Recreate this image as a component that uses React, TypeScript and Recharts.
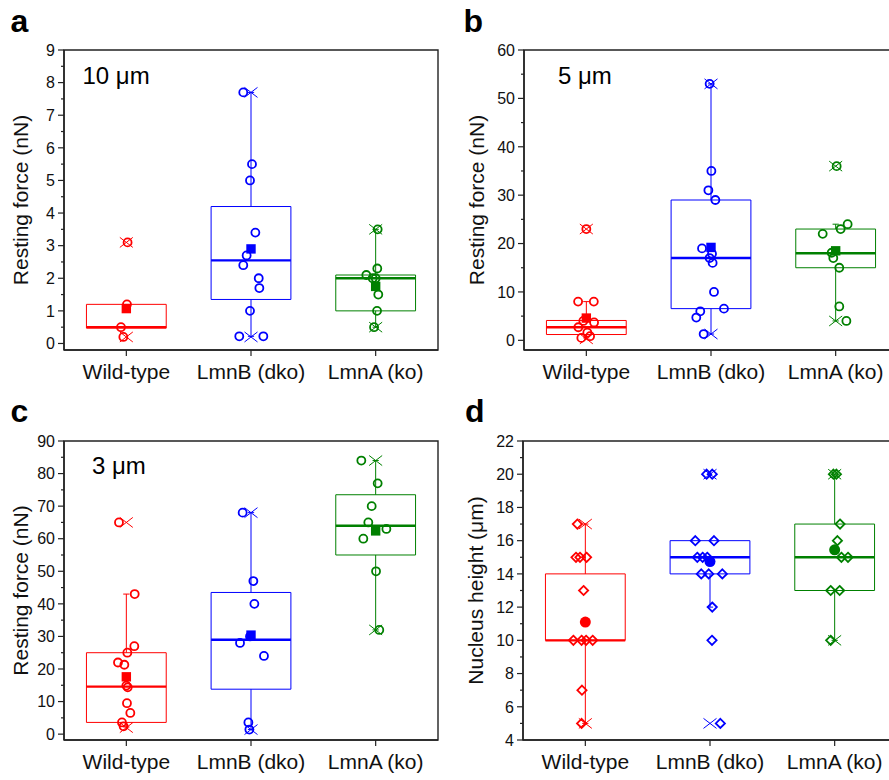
import React from "react";
import {
  ComposedChart,
  XAxis,
  YAxis,
  Scatter,
  ReferenceArea,
  ReferenceLine,
} from "recharts";

const groups = ["Wild-type", "LmnB (dko)", "LmnA (ko)"];
const colors = ["#ff0000", "#0000ff", "#008000"];

// a: resting force at 10 um
const aPoints = [
  [3.1, 1.2, 0.5, 0.2],
  [7.7, 5.5, 5.0, 3.4, 2.7, 2.4, 2.0, 1.7, 1.0, 0.22, 0.22],
  [3.5, 2.3, 2.1, 2.0, 2.0, 1.5, 1.0, 0.5],
];
const aJitter = [
  [0.01, 0.005, -0.043, -0.024],
  [-0.062, 0.008, -0.008, 0.035, -0.035, -0.062, 0.062, 0.067, -0.008, -0.094, 0.099],
  [0.016, 0.013, -0.075, -0.024, 0, 0.021, 0.011, -0.013],
];
const aBox = [[0.47, 0.5, 1.2], [1.35, 2.55, 4.2], [1.0, 2.0, 2.1]];
const aWhisker = [[0.47, 1.2], [0.22, 7.7], [0.5, 3.5]];
const aExtremes = [[0.2, 3.1], [0.2, 7.7], [0.5, 3.5]];
const aMean = [1.07, 2.9, 1.75];
const aMajor = [0, 1, 2, 3, 4, 5, 6, 7, 8, 9];
const aMinor = [0.5, 1.5, 2.5, 3.5, 4.5, 5.5, 6.5, 7.5, 8.5];

// b: resting force at 5 um
const bPoints = [
  [23, 8, 8, 4.0, 3.7, 2.7, 1.6, 0.5, 0.85],
  [53, 35, 31, 29, 19, 17.9, 17, 16, 10, 6.55, 6.0, 4.7, 1.3],
  [36, 24, 23, 22, 18.1, 17, 15, 7, 4],
];
const bJitter = [
  [0, -0.066, 0.06, -0.024, 0.062, -0.064, 0.008, -0.04, 0.03],
  [-0.011, 0.003, -0.021, 0.035, -0.072, 0.008, -0.011, 0.013, 0.024, 0.104, -0.086, -0.118, -0.059],
  [0.008, 0.096, 0.04, -0.104, -0.032, -0.019, 0.029, 0.029, 0.086],
];
const bBox = [[1.2, 2.7, 4.1], [6.55, 17, 29], [15, 18, 23]];
const bWhisker = [[0.5, 8], [1.3, 53], [4, 24]];
const bExtremes = [[0.3, 23], [1.3, 53], [4, 36]];
const bMean = [4.6, 19.2, 18.5];
const bMajor = [0, 10, 20, 30, 40, 50, 60];
const bMinor = [5, 15, 25, 35, 45, 55];

// c: resting force at 3 um
const cPoints = [
  [65, 43, 27, 25, 22, 21.3, 14.9, 14.4, 9.5, 6.5, 3.6, 2.4],
  [68, 47, 40, 30, 28, 24, 3.6, 1.4],
  [84, 77, 70, 65, 63, 60, 50, 32],
];
const cJitter = [
  [-0.059, 0.067, 0.064, 0.008, -0.067, -0.016, 0, 0.011, 0.005, 0.032, -0.035, -0.022],
  [-0.067, 0.019, 0.027, -0.008, -0.088, 0.104, -0.021, -0.013],
  [-0.115, 0.016, -0.032, -0.059, 0.086, -0.099, 0.003, 0.029],
];
const cBox = [[3.6, 14.6, 25], [13.8, 29, 43.5], [55, 64, 73.5]];
const cWhisker = [[2.2, 43], [1.4, 68], [32, 84]];
const cExtremes = [[2.0, 65], [1.4, 68], [32, 84]];
const cMean = [17.6, 30.4, 62.4];
const cMajor = [0, 10, 20, 30, 40, 50, 60, 70, 80, 90];
const cMinor = [5, 15, 25, 35, 45, 55, 65, 75, 85];

// d: nucleus height
const dPoints = [
  [17, 15, 15, 15, 13, 10, 10, 10, 10, 7, 5],
  [20, 20, 16, 16, 15, 15, 15, 14, 14, 14, 12, 10, 5],
  [20, 20, 17, 16, 15, 15, 13, 13, 10],
];
const dJitter = [
  [-0.064, -0.075, -0.043, 0.01, -0.014, -0.096, -0.03, 0.006, 0.059, -0.027, -0.03],
  [-0.027, 0.018, -0.118, 0.032, -0.102, -0.059, -0.022, -0.07, -0.01, 0.099, 0.018, 0.016, 0.083],
  [-0.01, 0.014, 0.043, 0.022, 0.054, 0.107, -0.032, 0.04, -0.032],
];
const dBox = [[10, 10, 14], [14, 15, 16], [13, 15, 17]];
const dWhisker = [[5, 17], [12, 16], [10, 20]];
const dExtremes = [[5, 17], [5, 20], [10, 20]];
const dMean = [11.1, 14.74, 15.45];
const dMajor = [4, 6, 8, 10, 12, 14, 16, 18, 20, 22];
const dMinor = [5, 7, 9, 11, 13, 15, 17, 19, 21];

const AXIS = "#222";
const HALF = 0.32;
const CAP = 0.025;
const AXW = 60;
const PAD_T = 10;
const PAD_R = 10;
const AXH = 45;
const PLOT_W = 374;

const panels = [
  {
    letter: "a", note: "10 μm", yLabel: "Resting force (nN)",
    left: 64, top: 50, h: 300, labelGap: 43.5, domain: [-0.2, 9],
    letterPos: [10.5, 31.5], notePos: [82.5, 84],
    points: aPoints, jitter: aJitter, box: aBox, whisker: aWhisker,
    extremes: aExtremes, mean: aMean, major: aMajor, minor: aMinor, marker: "circle",
  },
  {
    letter: "b", note: "5 μm", yLabel: "Resting force (nN)",
    left: 524, top: 50, h: 300, labelGap: 47, domain: [-2, 60],
    letterPos: [463.5, 31.5], notePos: [558, 84],
    points: bPoints, jitter: bJitter, box: bBox, whisker: bWhisker,
    extremes: bExtremes, mean: bMean, major: bMajor, minor: bMinor, marker: "circle",
  },
  {
    letter: "c", note: "3 μm", yLabel: "Resting force (nN)",
    left: 64, top: 441, h: 299, labelGap: 43.5, domain: [-1.8, 90],
    letterPos: [10.5, 421.5], notePos: [92, 474],
    points: cPoints, jitter: cJitter, box: cBox, whisker: cWhisker,
    extremes: cExtremes, mean: cMean, major: cMajor, minor: cMinor, marker: "circle",
  },
  {
    letter: "d", note: "", yLabel: "Nucleus height (μm)",
    left: 523, top: 441, h: 299, labelGap: 47, domain: [4, 22],
    letterPos: [465, 421.5], notePos: [0, 0],
    points: dPoints, jitter: dJitter, box: dBox, whisker: dWhisker,
    extremes: dExtremes, mean: dMean, major: dMajor, minor: dMinor, marker: "diamond",
  },
];

function YTick(props: any) {
  const { x, y, payload, major } = props;
  const v = payload.value;
  const isMajor = major.includes(v);
  return (
    <g>
      <line x1={x} x2={x - (isMajor ? 6 : 3)} y1={y} y2={y} stroke={AXIS} strokeWidth={1.2} />
      {isMajor && (
        <text x={x - 9} y={y} dy="0.36em" textAnchor="end" fontSize={16} fill="#111">
          {v}
        </text>
      )}
    </g>
  );
}

const openMarker = (kind: string, color: string) => (props: any) => {
  const { cx, cy } = props;
  if (kind === "diamond") {
    const r = 4.6;
    return (
      <path
        d={`M${cx},${cy - r}L${cx + r},${cy}L${cx},${cy + r}L${cx - r},${cy}Z`}
        fill="none"
        stroke={color}
        strokeWidth={1.8}
      />
    );
  }
  return <circle cx={cx} cy={cy} r={4} fill="none" stroke={color} strokeWidth={1.8} />;
};

const meanMarker = (kind: string, color: string) => (props: any) => {
  const { cx, cy } = props;
  if (kind === "diamond") return <circle cx={cx} cy={cy} r={5.5} fill={color} />;
  return <rect x={cx - 4.7} y={cy - 4.7} width={9.4} height={9.4} fill={color} />;
};

const crossMarker = (color: string) => (props: any) => {
  const { cx, cy } = props;
  return (
    <g stroke={color} strokeWidth={1}>
      <line x1={cx - 6.5} y1={cy - 5} x2={cx + 6.5} y2={cy + 5} />
      <line x1={cx - 6.5} y1={cy + 5} x2={cx + 6.5} y2={cy - 5} />
    </g>
  );
};

function Panel({ p }: { p: any }) {
  const [lo, hi] = p.domain;
  return (
    <div style={{ position: "absolute", left: p.left - AXW, top: p.top - PAD_T }}>
      <ComposedChart
        width={AXW + PLOT_W + PAD_R}
        height={PAD_T + p.h + AXH}
        margin={{ top: PAD_T, right: PAD_R, bottom: 0, left: 0 }}
      >
        <XAxis
          type="number"
          dataKey="x"
          domain={[0.5, 3.5]}
          ticks={[1, 2, 3]}
          interval={0}
          allowDataOverflow
          tickFormatter={(v: number) => groups[v - 1]}
          tick={{ fontSize: 21, fill: "#111" }}
          tickSize={6}
          tickMargin={8}
          tickLine={{ stroke: AXIS, strokeWidth: 1.2 }}
          axisLine={{ stroke: AXIS, strokeWidth: 1.5 }}
          height={AXH}
        />
        <YAxis
          type="number"
          dataKey="y"
          domain={p.domain}
          ticks={[...p.major, ...p.minor]}
          interval={0}
          allowDataOverflow
          tickLine={false}
          tickSize={0}
          tickMargin={0}
          tick={(t: any) => <YTick {...t} major={p.major} />}
          axisLine={{ stroke: AXIS, strokeWidth: 1.5 }}
          width={AXW}
          label={{
            value: p.yLabel,
            angle: -90,
            position: "insideLeft",
            offset: AXW - p.labelGap,
            style: { textAnchor: "middle", fontSize: 21, fill: "#111" },
          }}
        />
        <ReferenceArea
          x1={0.5}
          x2={3.5}
          y1={lo}
          y2={hi}
          fill="none"
          stroke={AXIS}
          strokeWidth={1.4}
          ifOverflow="visible"
        />
        {groups.map((_, g) => {
          const x = g + 1;
          const [q1, med, q3] = p.box[g];
          const [wl, wh] = p.whisker[g];
          const c = colors[g];
          return (
            <React.Fragment key={g}>
              <ReferenceArea
                x1={x - HALF}
                x2={x + HALF}
                y1={q1}
                y2={q3}
                fill="none"
                stroke={c}
                strokeWidth={1}
                ifOverflow="visible"
              />
              <ReferenceLine
                segment={[{ x: x - HALF, y: med }, { x: x + HALF, y: med }]}
                stroke={c}
                strokeWidth={2.4}
                ifOverflow="visible"
              />
              {wh > q3 && (
                <ReferenceLine segment={[{ x, y: q3 }, { x, y: wh }]} stroke={c} strokeWidth={1} ifOverflow="visible" />
              )}
              {wh > q3 && (
                <ReferenceLine
                  segment={[{ x: x - CAP, y: wh }, { x: x + CAP, y: wh }]}
                  stroke={c}
                  strokeWidth={1}
                  ifOverflow="visible"
                />
              )}
              {wl < q1 && (
                <ReferenceLine segment={[{ x, y: wl }, { x, y: q1 }]} stroke={c} strokeWidth={1} ifOverflow="visible" />
              )}
              {wl < q1 && (
                <ReferenceLine
                  segment={[{ x: x - CAP, y: wl }, { x: x + CAP, y: wl }]}
                  stroke={c}
                  strokeWidth={1}
                  ifOverflow="visible"
                />
              )}
            </React.Fragment>
          );
        })}
        {groups.map((_, g) => (
          <Scatter
            key={"x" + g}
            data={p.extremes[g].map((v: number) => ({ x: g + 1, y: v }))}
            shape={crossMarker(colors[g])}
            isAnimationActive={false}
          />
        ))}
        {groups.map((_, g) => (
          <Scatter
            key={"p" + g}
            data={p.points[g].map((v: number, i: number) => ({ x: g + 1 + p.jitter[g][i], y: v }))}
            shape={openMarker(p.marker, colors[g])}
            isAnimationActive={false}
          />
        ))}
        {groups.map((_, g) => (
          <Scatter
            key={"m" + g}
            data={[{ x: g + 1, y: p.mean[g] }]}
            shape={meanMarker(p.marker, colors[g])}
            isAnimationActive={false}
          />
        ))}
      </ComposedChart>
    </div>
  );
}

export default function App() {
  return (
    <div
      style={{
        position: "fixed",
        left: 0,
        top: 0,
        width: 889,
        height: 780,
        overflow: "hidden",
        background: "#fff",
        fontFamily: '"Liberation Sans", Arial, sans-serif',
      }}
    >
      {panels.map((p) => (
        <Panel key={p.letter} p={p} />
      ))}
      <svg
        width={889}
        height={780}
        style={{ position: "absolute", left: 0, top: 0, pointerEvents: "none" }}
      >
        {panels.map((p) => (
          <g key={p.letter}>
            <text x={p.letterPos[0]} y={p.letterPos[1]} fontSize={32} fontWeight="bold" fill="#000">
              {p.letter}
            </text>
            {p.note && (
              <text x={p.notePos[0]} y={p.notePos[1]} fontSize={24} fill="#000">
                {p.note}
              </text>
            )}
          </g>
        ))}
      </svg>
    </div>
  );
}
